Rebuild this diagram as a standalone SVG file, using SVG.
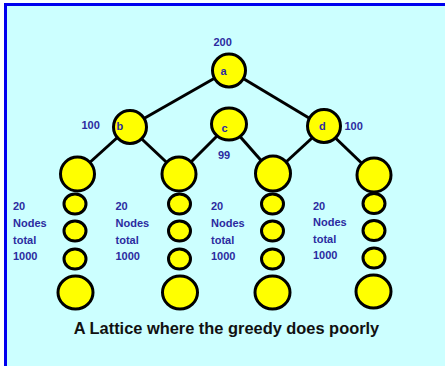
<svg xmlns="http://www.w3.org/2000/svg" width="445" height="366" viewBox="0 0 445 366">
<style>
.n{fill:#ffff00;stroke:#000;stroke-width:3}
.e{stroke:#000;stroke-width:3;fill:none}
.l{font-family:"Liberation Sans",Arial,sans-serif;font-weight:bold;font-size:11px;fill:#2b2ba0}
.cap{font-family:"Liberation Sans",Arial,sans-serif;font-weight:bold;font-size:16.4px;fill:#111}
</style>
<rect x="0" y="0" width="445" height="366" fill="#ffffff"/>
<rect x="5.5" y="4.5" width="445" height="370" fill="#ccffff" stroke="#0000ee" stroke-width="3"/>
<g id="connectors" class="e">
<line x1="229" y1="70" x2="129" y2="127"/>
<line x1="229" y1="70" x2="324" y2="127"/>
<line x1="129" y1="127" x2="77" y2="174"/>
<line x1="129" y1="127" x2="179" y2="174"/>
<line x1="229" y1="124" x2="179" y2="174"/>
<line x1="229" y1="124" x2="273" y2="174"/>
<line x1="324" y1="127" x2="273" y2="174"/>
<line x1="324" y1="127" x2="374" y2="175"/>
</g>
<g id="a"><circle class="n" cx="229" cy="70.5" r="16.5"/><text class="l" x="220.5" y="75">a</text><text class="l" x="213.5" y="46">200</text></g>
<g id="b"><circle class="n" cx="130" cy="127" r="16.5"/><text class="l" x="116.5" y="130">b</text><text class="l" x="81.5" y="129">100</text></g>
<g id="c"><ellipse class="n" cx="229" cy="124" rx="17.5" ry="16"/><text class="l" x="221.5" y="132">c</text><text class="l" x="218" y="159">99</text></g>
<g id="d"><circle class="n" cx="324" cy="126" r="16.5"/><text class="l" x="319" y="130">d</text><text class="l" x="344.5" y="130">100</text></g>
<g id="col1">
<circle class="n" cx="77.5" cy="174" r="17"/>
<ellipse class="n" cx="75" cy="204" rx="11" ry="10"/>
<ellipse class="n" cx="75" cy="231" rx="11" ry="10"/>
<ellipse class="n" cx="75" cy="259" rx="11" ry="10"/>
<ellipse class="n" cx="75.5" cy="292.5" rx="17.5" ry="16.5"/>
<text class="l" x="13" y="210">20</text><text class="l" x="13" y="227">Nodes</text><text class="l" x="13" y="243.5">total</text><text class="l" x="13" y="260">1000</text>
</g>
<g id="col2">
<circle class="n" cx="179" cy="174" r="17"/>
<ellipse class="n" cx="179.5" cy="204" rx="11" ry="10"/>
<ellipse class="n" cx="179.5" cy="231" rx="11" ry="10"/>
<ellipse class="n" cx="179.5" cy="259" rx="11" ry="10"/>
<ellipse class="n" cx="180" cy="292.5" rx="17.5" ry="16.5"/>
<text class="l" x="115.5" y="210">20</text><text class="l" x="115.5" y="227">Nodes</text><text class="l" x="115.5" y="243.5">total</text><text class="l" x="115.5" y="260">1000</text>
</g>
<g id="col3">
<circle class="n" cx="273" cy="173.5" r="17.5"/>
<ellipse class="n" cx="272.5" cy="204" rx="11" ry="10"/>
<ellipse class="n" cx="272.5" cy="231" rx="11" ry="10"/>
<ellipse class="n" cx="272.5" cy="259" rx="11" ry="10"/>
<ellipse class="n" cx="272.5" cy="292.5" rx="17.5" ry="16.5"/>
<text class="l" x="211" y="210">20</text><text class="l" x="211" y="227">Nodes</text><text class="l" x="211" y="243.5">total</text><text class="l" x="211" y="260">1000</text>
</g>
<g id="col4">
<circle class="n" cx="374" cy="175" r="17"/>
<ellipse class="n" cx="374" cy="203.5" rx="11" ry="10"/>
<ellipse class="n" cx="374" cy="230.5" rx="11" ry="10"/>
<ellipse class="n" cx="374" cy="258" rx="11" ry="10"/>
<ellipse class="n" cx="373.5" cy="291.5" rx="17.5" ry="16.5"/>
<text class="l" x="313" y="210">20</text><text class="l" x="313" y="226">Nodes</text><text class="l" x="313" y="242.5">total</text><text class="l" x="313" y="259">1000</text>
</g>
<text class="cap" x="226.5" y="333.5" text-anchor="middle">A Lattice where the greedy does poorly</text>
</svg>
